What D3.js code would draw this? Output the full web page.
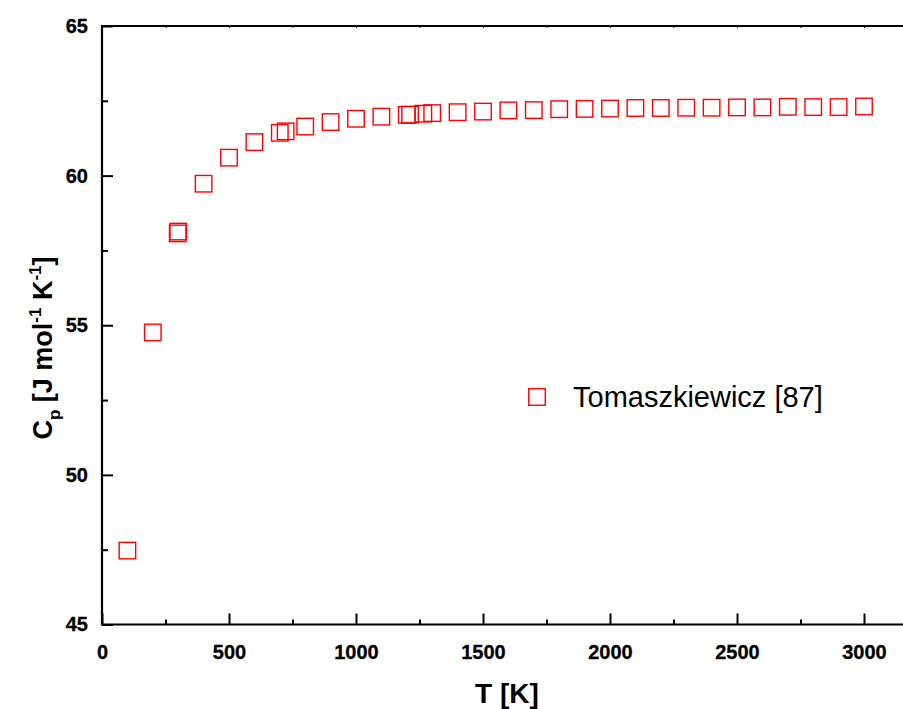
<!DOCTYPE html>
<html>
<head>
<meta charset="utf-8">
<script src="https://cdn.jsdelivr.net/npm/d3@7/dist/d3.min.js"></script>
<style>
  html, body { margin: 0; padding: 0; background: #fff; }
  svg { display: block; font-family: "Liberation Sans", Arial, sans-serif; }
</style>
</head>
<body>
<svg id="chart" width="903" height="709"></svg>
<script>
// ---- data ----
const temperature = [100, 200, 298.15, 300, 400, 500, 600, 700, 723, 800, 900, 1000, 1100, 1200, 1213, 1265, 1300, 1400, 1500, 1600, 1700, 1800, 1900, 2000, 2100, 2200, 2300, 2400, 2500, 2600, 2700, 2800, 2900, 3000];
const cp = [47.47, 54.76, 58.07, 58.13, 59.73, 60.60, 61.12, 61.43, 61.48, 61.64, 61.79, 61.90, 61.97, 62.03, 62.04, 62.07, 62.09, 62.12, 62.14, 62.18, 62.19, 62.22, 62.23, 62.24, 62.26, 62.26, 62.27, 62.27, 62.28, 62.28, 62.30, 62.29, 62.29, 62.31];
const seriesName = "Tomaszkiewicz [87]";
const xMajorTicks = [0, 500, 1000, 1500, 2000, 2500, 3000];
const xMinorTicks = [250, 750, 1250, 1750, 2250, 2750];
const yMajorTicks = [45, 50, 55, 60, 65];
const yMinorTicks = [47.5, 52.5, 57.5, 62.5];

// ---- layout ----
const svg = d3.select("#chart");
const plotLeft = 102, plotTop = 26, plotBottom = 624.5;
const x = d3.scaleLinear().domain([0, 3000]).range([plotLeft, 864]);
const y = d3.scaleLinear().domain([45, 65]).range([plotBottom, plotTop]);
const xMax = 3200;

// frame
const g = svg.append("g");
g.append("line").attr("x1", plotLeft).attr("x2", x(xMax)).attr("y1", plotTop).attr("y2", plotTop)
  .attr("stroke", "#000").attr("stroke-width", 2);
g.append("line").attr("x1", plotLeft).attr("x2", x(xMax)).attr("y1", plotBottom).attr("y2", plotBottom)
  .attr("stroke", "#000").attr("stroke-width", 2);
g.append("line").attr("x1", plotLeft).attr("x2", plotLeft).attr("y1", plotTop - 1).attr("y2", plotBottom + 1)
  .attr("stroke", "#000").attr("stroke-width", 2.2);

// bottom axis (ticks inward)
const xAxis = d3.axisBottom(x).tickValues(xMajorTicks).tickSize(-11).tickPadding(20).tickFormat(d3.format("d"));
const xa = svg.append("g").attr("transform", `translate(0,${plotBottom})`).call(xAxis);
xa.select(".domain").remove();
xa.selectAll(".tick line").attr("stroke", "#000").attr("stroke-width", 2);
xa.selectAll(".tick text").attr("font-size", 20).attr("font-weight", "bold").attr("fill", "#000")
  .attr("stroke", "#000").attr("stroke-width", 0.3)
  .attr("font-family", "Liberation Sans, Arial, sans-serif");
const xMin = d3.axisBottom(x).tickValues(xMinorTicks).tickSize(-5).tickFormat("");
const xm = svg.append("g").attr("transform", `translate(0,${plotBottom})`).call(xMin);
xm.select(".domain").remove();
xm.selectAll(".tick line").attr("stroke", "#000").attr("stroke-width", 2);

// top axis small ticks
const xTop = d3.axisTop(x).tickValues(xMajorTicks.concat(xMinorTicks)).tickSize(-2).tickFormat("");
const xt = svg.append("g").attr("transform", `translate(0,${plotTop})`).call(xTop);
xt.select(".domain").remove();
xt.selectAll(".tick line").attr("stroke", "#000").attr("stroke-width", 1);

// left axis (ticks inward)
const yAxis = d3.axisLeft(y).tickValues(yMajorTicks).tickSize(-11).tickPadding(14).tickFormat(d3.format("d"));
const ya = svg.append("g").attr("transform", `translate(${plotLeft},0)`).call(yAxis);
ya.select(".domain").remove();
ya.selectAll(".tick line").attr("stroke", "#000").attr("stroke-width", 2);
ya.selectAll(".tick text").attr("font-size", 20).attr("font-weight", "bold").attr("fill", "#000")
  .attr("stroke", "#000").attr("stroke-width", 0.3)
  .attr("font-family", "Liberation Sans, Arial, sans-serif");
const yMin = d3.axisLeft(y).tickValues(yMinorTicks).tickSize(-6).tickFormat("");
const ym = svg.append("g").attr("transform", `translate(${plotLeft},0)`).call(yMin);
ym.select(".domain").remove();
ym.selectAll(".tick line").attr("stroke", "#000").attr("stroke-width", 2);

// axis titles
svg.append("text").attr("x", 507).attr("y", 703).attr("text-anchor", "middle")
  .attr("font-size", 28).attr("font-weight", "bold").text("T [K]");

const yt = svg.append("text").attr("transform", "translate(52,348) rotate(-90)")
  .attr("text-anchor", "middle").attr("font-size", 27).attr("font-weight", "bold");
yt.append("tspan").text("C");
yt.append("tspan").attr("font-size", 17).attr("dy", 8).text("p");
yt.append("tspan").attr("dy", -8).text(" [J mol");
yt.append("tspan").attr("font-size", 17).attr("dy", -11).text("-1");
yt.append("tspan").attr("dy", 11).text(" K");
yt.append("tspan").attr("font-size", 17).attr("dy", -11).text("-1");
yt.append("tspan").attr("dy", 11).text("]");

// data markers
const sz = 16.5;
svg.append("g").selectAll("rect").data(temperature.map((t, i) => [t, cp[i]])).join("rect")
  .attr("x", d => x(d[0]) - sz / 2).attr("y", d => y(d[1]) - sz / 2)
  .attr("width", sz).attr("height", sz)
  .attr("fill", "none").attr("stroke", "#ff0000").attr("stroke-width", 1.4);

// legend
svg.append("rect").attr("x", 537 - sz / 2).attr("y", 397 - sz / 2).attr("width", sz).attr("height", sz)
  .attr("fill", "none").attr("stroke", "#ff0000").attr("stroke-width", 1.4);
svg.append("text").attr("x", 573).attr("y", 407).attr("font-size", 29).attr("fill", "#000")
  .text(seriesName);
</script>
</body>
</html>
